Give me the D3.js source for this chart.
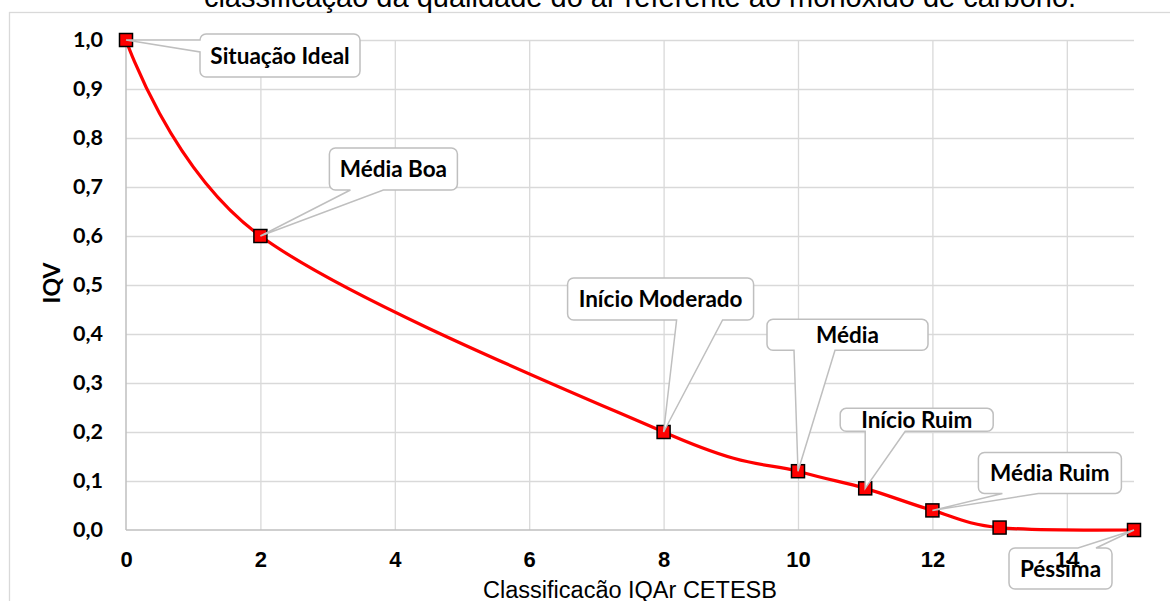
<!DOCTYPE html>
<html>
<head>
<meta charset="utf-8">
<script src="https://cdn.jsdelivr.net/npm/d3@7"></script>
<style>
  html, body { margin: 0; padding: 0; background: #fff; }
  svg { display: block; }
</style>
</head>
<body>
<div id="chart"></div>
<script>
// Chart data
const xValues = [0, 2, 8, 10, 11, 12, 13, 15];
const iqvValues = [1.0, 0.6, 0.2, 0.12, 0.085, 0.04, 0.005, 0.0];
const pointLabels = ['Situação Ideal', 'Média Boa', 'Início Moderado', 'Média', 'Início Ruim', 'Média Ruim', '', 'Péssima'];
const xTicks = [0, 2, 4, 6, 8, 10, 12, 14];
const yTicks = [0, 0.1, 0.2, 0.3, 0.4, 0.5, 0.6, 0.7, 0.8, 0.9, 1.0];

const titleText = 'classificação da qualidade do ar referente ao monóxido de carbono.';
const xTitle = 'Classificacão IQAr CETESB';
const yTitle = 'IQV';

// Callout layout (pixel offsets from the point), not data
const calloutLayout = [
    { dx: 74, dy: -6, w: 160, h: 43, side: 'left', b1: 0, b2: 12 },
    { dx: 69, dy: -88, w: 128, h: 42, side: 'bottom', b1: 90, b2: 123 },
    { dx: -96, dy: -154, w: 186, h: 42, side: 'bottom', b1: 13, b2: 59 },
    { dx: -31, dy: -152, w: 161, h: 31, side: 'bottom', b1: -4, b2: 37 },
    { dx: -25, dy: -80, w: 153, h: 23, side: 'bottom', b1: 0, b2: 40 },
    { dx: 46, dy: -58, w: 143, h: 41, side: 'bottom', b1: 70, b2: 106 },
    null,
    { dx: -125, dy: 18, w: 103, h: 41, side: 'top', b1: -56, b2: -38 }
];

const width = 1170, height = 601;
const svg = d3.select('#chart').append('svg')
    .attr('width', width)
    .attr('height', height);

const x = d3.scaleLinear().domain([0, 15]).range([126, 1134]);
const y = d3.scaleLinear().domain([0, 1]).range([530, 40]);

// chart frame
svg.append('rect')
    .attr('x', 9.5).attr('y', 12.5)
    .attr('width', 1200).attr('height', 620)
    .attr('fill', 'none')
    .attr('stroke', '#d9d9d9')
    .attr('stroke-width', 1.3);

// title (cut off at the top)
svg.append('text')
    .attr('x', 640).attr('y', 7)
    .attr('text-anchor', 'middle')
    .attr('font-family', 'Liberation Sans, Arial, sans-serif')
    .attr('font-size', 29)
    .attr('fill', '#000')
    .text(titleText);

// gridlines
svg.append('g')
    .attr('transform', `translate(${x(0)},0)`)
    .call(d3.axisLeft(y).tickValues(yTicks.slice(1)).tickSize(-(x(15) - x(0))).tickFormat(''))
    .call(g => g.select('.domain').remove())
    .call(g => g.selectAll('line').attr('stroke', '#d9d9d9').attr('stroke-width', 1.3));

svg.append('g')
    .attr('transform', `translate(0,${y(0)})`)
    .call(d3.axisBottom(x).tickValues(xTicks.slice(1)).tickSize(-(y(0) - y(1))).tickFormat(''))
    .call(g => g.select('.domain').remove())
    .call(g => g.selectAll('line').attr('stroke', '#d9d9d9').attr('stroke-width', 1.3));

// axis lines
svg.append('line')
    .attr('x1', x(0)).attr('x2', x(15))
    .attr('y1', y(0)).attr('y2', y(0))
    .attr('stroke', '#bfbfbf').attr('stroke-width', 1.5);
svg.append('line')
    .attr('x1', x(0)).attr('x2', x(0))
    .attr('y1', y(0)).attr('y2', y(1))
    .attr('stroke', '#bfbfbf').attr('stroke-width', 1.5);

const points = xValues.map((v, i) => ({ x: v, y: iqvValues[i], label: pointLabels[i], layout: calloutLayout[i] }));

// smoothed line
const line = d3.line()
    .x(d => x(d.x))
    .y(d => y(d.y))
    .curve(d3.curveCardinal.tension(0));

svg.append('path')
    .datum(points)
    .attr('d', line)
    .attr('fill', 'none')
    .attr('stroke', '#ff0000')
    .attr('stroke-width', 3.2);

// markers
svg.selectAll('rect.marker')
    .data(points)
    .enter()
    .append('rect')
    .attr('class', 'marker')
    .attr('x', d => x(d.x) - 6.5)
    .attr('y', d => y(d.y) - 6.5)
    .attr('width', 13)
    .attr('height', 13)
    .attr('fill', '#ff0000')
    .attr('stroke', '#000')
    .attr('stroke-width', 1.5);

// callout shape: rounded box with a wedge pointing to (px, py)
function calloutPath(x0, y0, x1, y1, r, side, b1, b2, px, py) {
    let p = `M${x0 + r},${y0}`;
    if (side === 'top') p += `H${b1}L${px},${py}L${b2},${y0}`;
    p += `H${x1 - r}A${r},${r} 0 0 1 ${x1},${y0 + r}V${y1 - r}A${r},${r} 0 0 1 ${x1 - r},${y1}`;
    if (side === 'bottom') p += `H${b2}L${px},${py}L${b1},${y1}`;
    p += `H${x0 + r}A${r},${r} 0 0 1 ${x0},${y1 - r}`;
    if (side === 'left') p += `V${b2}L${px},${py}L${x0},${b1}`;
    p += `V${y0 + r}A${r},${r} 0 0 1 ${x0 + r},${y0}Z`;
    return p;
}

const callouts = svg.append('g');
points.filter(d => d.layout).forEach(d => {
    const L = d.layout;
    const px = x(d.x), py = y(d.y);
    const x0 = px + L.dx, y0 = py + L.dy;
    const x1 = x0 + L.w, y1 = y0 + L.h;
    let b1, b2;
    if (L.side === 'left') { b1 = py + L.b1; b2 = py + L.b2; }
    else { b1 = px + L.b1; b2 = px + L.b2; }
    callouts.append('path')
        .attr('d', calloutPath(x0, y0, x1, y1, 6, L.side, b1, b2, px, py))
        .attr('fill', '#fff')
        .attr('stroke', '#bfbfbf')
        .attr('stroke-width', 1.5);
    callouts.append('text')
        .attr('x', (x0 + x1) / 2)
        .attr('y', (y0 + y1) / 2 + 8)
        .attr('text-anchor', 'middle')
        .attr('font-family', 'Lato, sans-serif')
        .attr('font-weight', 'bold')
        .attr('font-size', 22.5)
        .attr('fill', '#000')
        .text(d.label);
});

// x tick labels
svg.append('g')
    .attr('transform', `translate(0,${y(0)})`)
    .call(d3.axisBottom(x).tickValues(xTicks).tickSize(0).tickPadding(21))
    .call(g => g.select('.domain').remove())
    .call(g => g.selectAll('text')
        .attr('font-family', 'Liberation Sans, Arial, sans-serif')
        .attr('font-weight', 'bold')
        .attr('font-size', 22)
        .attr('fill', '#000'));

// y tick labels
svg.append('g')
    .attr('transform', `translate(${x(0)},0)`)
    .call(d3.axisLeft(y).tickValues(yTicks).tickSize(0).tickPadding(23)
        .tickFormat(d => d3.format('.1f')(d).replace('.', ',')))
    .call(g => g.select('.domain').remove())
    .call(g => g.selectAll('text')
        .attr('font-family', 'Lato, sans-serif')
        .attr('font-weight', 'bold')
        .attr('font-size', 21.5)
        .attr('fill', '#000'));

// axis titles
svg.append('text')
    .attr('x', 630).attr('y', 598)
    .attr('text-anchor', 'middle')
    .attr('font-family', 'Liberation Sans, Arial, sans-serif')
    .attr('font-size', 23.5)
    .attr('fill', '#000')
    .text(xTitle);

svg.append('text')
    .attr('transform', 'translate(60,283) rotate(-90)')
    .attr('text-anchor', 'middle')
    .attr('font-family', 'Lato, sans-serif')
    .attr('font-weight', 'bold')
    .attr('font-size', 23)
    .attr('fill', '#000')
    .text(yTitle);
</script>
</body>
</html>
